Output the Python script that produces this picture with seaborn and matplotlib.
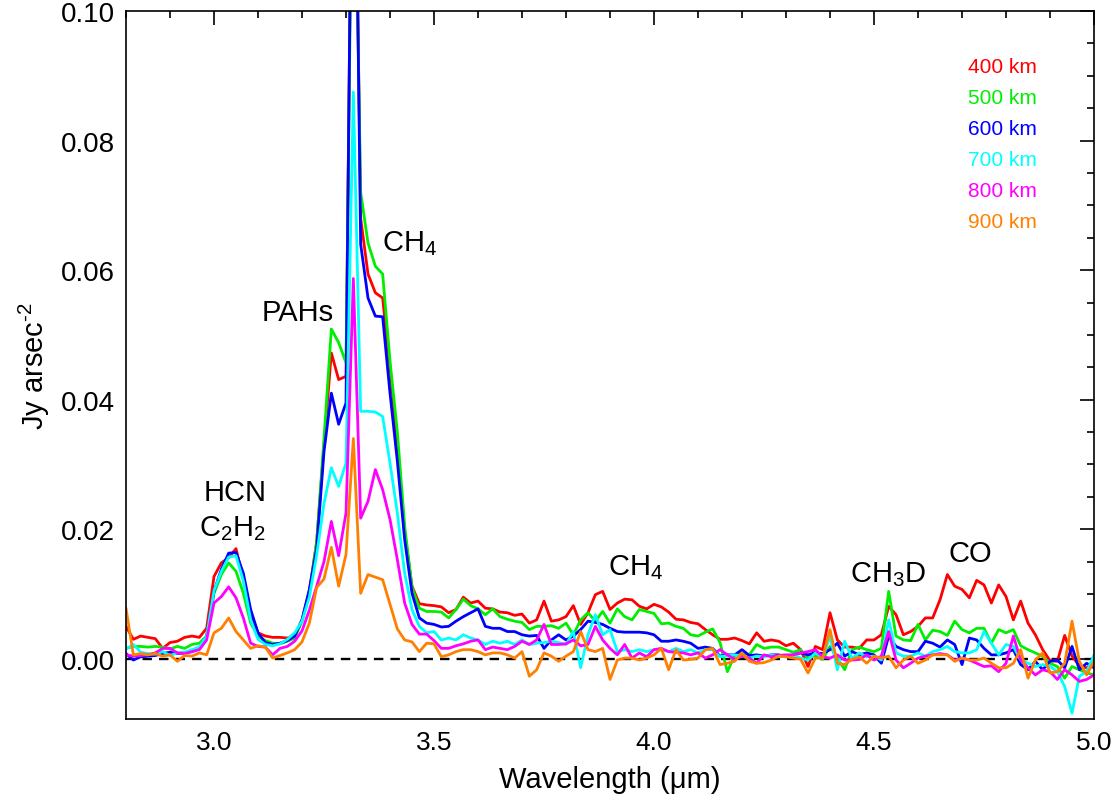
import numpy as np
import pandas as pd
import matplotlib
matplotlib.use("Agg")
import matplotlib.pyplot as plt
import seaborn as sns
from matplotlib.ticker import MultipleLocator, FormatStrFormatter

# Spectral grid: 2.8 to 5.0 micron in steps of 1/60 micron (133 samples)
wl_start, wl_step, n_points = 2.8, 1.0 / 60.0, 133
wavelength = np.round(wl_start + wl_step * np.arange(n_points), 4)

# Fluxes, in units of 1e-3 Jy arcsec^-2
flux_400 = [5.0, 3.0, 3.5, 3.3, 3.1, 1.6, 2.5, 2.7, 3.3, 3.5, 3.3, 4.7, 12.7, 14.8, 15.6, 17.0, 12.2, 7.1, 4.0, 3.5, 3.3, 3.3, 3.2, 3.5,
            6.0, 10.5, 18.0, 33.0, 47.2, 43.1, 43.6, 150.0, 68.0, 59.4, 56.5, 55.7, 45.0, 33.0, 19.5, 11.2, 8.5, 8.3,
            8.2, 8.0, 7.1, 7.6, 9.5, 8.6, 8.9, 7.8, 7.7, 7.2, 7.1, 6.7, 6.9, 5.5, 6.0, 8.9, 5.8, 6.0, 6.5, 8.2, 5.3, 7.1, 9.9, 10.4, 7.6, 8.6, 9.2, 9.1, 8.1, 7.7,
            8.4, 8.0, 7.2, 6.1, 6.0, 5.6, 5.4, 4.5, 3.7, 3.0, 3.0, 3.2, 2.8, 2.3, 4.0, 2.7, 2.9, 2.7, 2.0, 2.4, 1.4, -1.2, 1.9, 1.4, 7.1, 2.9, 1.8, 1.8, 1.6, 2.9,
            2.9, 3.7, 8.1, 6.8, 3.7, 4.2, 5.0, 6.3, 6.3, 9.1, 13.0, 11.2, 10.7, 9.4, 12.1, 11.4, 8.6, 11.4, 9.6, 6.0, 8.9, 5.5, 3.7, 1.4, -0.3, -0.4, 3.6, 0.4, -1.1, -1.4, -0.9]
flux_500 = [1.6, 1.9, 1.9, 1.8, 1.9, 1.8, 1.5, 1.9, 1.6, 2.2, 2.4, 3.5, 10.1, 13.0, 14.8, 13.5, 10.1, 5.5, 3.5, 2.8, 2.4, 2.3, 2.7, 3.2,
            5.8, 10.0, 18.0, 34.0, 50.9, 48.8, 45.7, 140.0, 72.0, 64.2, 60.6, 59.4, 46.0, 35.0, 20.5, 11.0, 7.8, 7.3,
            7.3, 7.2, 6.3, 7.6, 9.2, 8.2, 7.7, 6.8, 7.7, 6.5, 6.1, 5.8, 5.6, 4.5, 5.0, 5.0, 5.1, 4.7, 5.5, 3.7, 6.0, 7.1, 5.8, 7.3, 5.5, 7.7, 6.5, 6.0, 7.6, 7.3,
            7.0, 5.4, 5.5, 5.0, 4.7, 3.7, 3.5, 4.1, 4.6, 2.5, -2.0, 0.5, 0.9, 0.6, 2.2, 1.6, 1.8, 1.8, 1.4, 1.0, 1.4, 0.1, 0.5, -0.1, 1.9, 0.1, -1.7, 1.4, 1.8, 1.4,
            1.1, 1.6, 10.4, 3.5, 2.9, 2.8, 5.3, 2.9, 4.4, 4.2, 3.6, 5.8, 4.5, 4.0, 4.7, 4.7, 2.4, 4.5, 4.0, 4.5, 2.0, 1.4, 0.9, 0.4, -0.7, -1.2, -3.0, -1.2, -1.7, -2.2, -2.5]
flux_600 = [0.8, -0.2, 0.3, 0.4, 0.5, 0.8, 1.0, 0.8, 0.9, 1.1, 1.6, 3.5, 10.4, 13.8, 16.3, 16.4, 13.2, 7.6, 4.0, 2.5, 2.2, 2.4, 2.8, 3.5,
            6.0, 10.7, 17.0, 32.0, 41.0, 36.2, 39.5, 155.0, 64.0, 55.7, 52.9, 52.8, 41.0, 30.5, 18.4, 10.1, 6.3, 5.5,
            5.3, 4.9, 5.0, 5.8, 6.5, 7.1, 7.7, 5.0, 4.7, 4.7, 4.2, 4.2, 3.7, 3.5, 3.6, 1.6, 2.9, 3.7, 2.9, 3.5, 4.5, 5.8, 5.6, 5.3, 4.7, 4.2, 4.1, 4.1, 4.1, 4.0,
            3.7, 2.7, 2.7, 2.9, 2.7, 2.4, 1.6, 1.8, 1.6, 0.4, 0.6, 0.6, 1.4, 0.5, 0.6, 0.4, 0.6, 0.6, 0.3, 0.6, 0.9, 0.6, 0.9, 0.8, 1.4, 2.4, 0.4, 1.1, 0.6, 0.9,
            0.6, -0.7, 3.5, 1.9, 1.4, 1.1, 1.1, 2.7, 2.4, 1.8, 2.9, 2.2, -0.9, 3.2, 2.9, 1.6, 0.6, 0.6, 0.9, 1.4, -0.9, -1.7, -0.4, -1.7, -0.4, -0.2, -1.4, 1.9, -1.7, -0.7, -1.4]
flux_700 = [1.5, 2.2, 1.0, 0.8, 0.7, 1.1, 0.5, 0.9, 1.0, 1.4, 1.8, 3.5, 10.5, 13.5, 15.7, 15.9, 12.0, 6.0, 3.0, 2.2, 2.0, 2.3, 3.0, 4.0,
            5.8, 9.5, 16.0, 24.0, 29.5, 26.6, 30.2, 87.5, 38.2, 38.2, 38.1, 37.4, 30.2, 22.5, 13.2, 7.6, 5.0, 4.0,
            4.2, 2.9, 3.2, 2.9, 3.7, 3.2, 2.9, 2.2, 2.7, 2.4, 2.7, 2.2, 2.9, 2.2, 2.4, 2.5, 2.7, 2.5, 2.2, 4.2, -1.4, 3.7, 6.8, 3.7, 4.5, 1.1, 1.4, 1.1, 1.4, 1.1,
            1.4, 1.4, 1.1, 1.6, 1.1, 1.4, 0.9, 1.4, 1.4, 0.3, 0.5, 0.6, 0.4, 0.1, 0.4, 0.3, 0.6, 0.3, 0.4, 0.6, 0.1, -0.2, 0.9, 0.1, 3.5, -1.7, 2.7, 0.1, 0.9, 0.3,
            0.4, -0.2, 6.0, 0.9, 0.4, 0.4, 0.9, 0.4, 1.1, 1.4, 1.9, 1.1, 0.9, 0.9, 1.4, 4.2, 2.4, 0.6, 2.2, 1.9, -0.2, -0.7, -1.2, -0.9, -1.2, -2.0, -4.3, -8.4, -2.7, -2.0, 0.6]
flux_800 = [0.6, 0.4, 0.5, 0.6, 0.9, 1.6, 1.6, 0.9, 0.8, 1.1, 1.4, 2.9, 8.6, 9.6, 11.1, 9.4, 6.3, 2.4, 1.9, 1.8, 0.6, 1.6, 1.9, 2.7,
            4.3, 7.5, 11.2, 15.0, 21.2, 15.9, 22.5, 58.7, 21.7, 24.3, 29.2, 26.1, 21.5, 15.3, 8.6, 5.3, 3.8, 3.8,
            2.8, 1.6, 1.6, 2.0, 2.3, 2.7, 2.9, 1.4, 1.8, 1.6, 1.4, 1.9, 2.7, 2.2, 2.9, 5.3, 2.2, 2.2, 2.3, 2.9, 2.0, 2.2, 5.0, 2.9, 1.6, 0.6, 2.2, 0.1, 0.9, 0.3,
            1.4, 1.6, 1.1, 1.0, 0.9, 0.6, 0.9, 0.1, 0.6, 1.4, 0.6, -0.1, 0.4, 0.1, -0.7, 0.6, 0.3, 0.5, 0.6, 0.6, 0.9, 1.1, 1.4, 0.3, 0.1, 0.6, -0.2, -0.2, -0.1, 0.6,
            -0.2, 0.4, 4.2, -0.2, -1.4, -0.7, 0.1, 0.4, 0.6, 0.8, 0.6, -0.2, 0.1, -0.2, -0.7, -1.2, -1.1, -2.0, -0.7, 3.5, -0.2, -1.4, -2.5, -1.7, -2.0, -3.2, -1.7, -2.5, -3.5, -3.2, -2.5]
flux_900 = [7.8, 0.6, 0.8, 0.6, 0.8, 0.4, 0.6, -0.4, 0.5, 0.4, 0.9, 0.6, 4.0, 4.7, 6.3, 4.2, 2.9, 1.6, 2.0, 1.8, 0.1, 0.5, 0.9, 1.4,
            2.6, 5.5, 11.0, 12.3, 17.2, 11.2, 16.1, 34.0, 10.1, 13.0, 12.6, 12.2, 8.4, 4.6, 2.9, 2.6, 1.1, 2.4,
            2.3, 0.3, 0.6, 1.1, 1.4, 1.4, 1.1, 0.6, 0.9, 0.9, 0.6, 0.1, 1.1, -2.7, -1.7, 0.9, 0.4, -0.4, 0.4, 1.1, 4.2, 1.4, 1.1, 1.6, -3.2, -0.2, 0.1, 0.1, -0.2, 0.1,
            0.6, 1.6, -1.7, 1.4, -0.2, -0.1, 0.1, 1.4, 1.6, -0.9, -0.7, -0.4, 0.9, -0.4, -0.7, -0.6, -0.2, 0.4, 0.3, 0.1, -0.1, -2.2, 0.1, 0.1, 4.5, -0.7, -0.9, -0.1, 0.3, -0.7,
            0.4, 0.1, 0.4, -1.4, -0.2, 0.4, -0.7, -0.2, 0.6, 0.6, 0.6, -0.4, 0.1, -0.2, -0.2, 0.1, -0.7, -1.4, -1.4, -0.7, 1.4, -3.0, -0.2, 0.9, -2.2, -2.0, -0.7, 5.8, -0.4, -2.5, -0.4]

altitudes = ["400 km", "500 km", "600 km", "700 km", "800 km", "900 km"]
colors = ["#ff0000", "#00ee00", "#0000ff", "#00ffff", "#ff00ff", "#ff8000"]

# Long-form table for seaborn
series = [flux_400, flux_500, flux_600, flux_700, flux_800, flux_900]
df = pd.concat([pd.DataFrame({"wavelength": wavelength,
                              "flux": np.array(f) * 1e-3,
                              "altitude": alt})
                for f, alt in zip(series, altitudes)], ignore_index=True)

sns.set_style("white")
plt.rcParams["font.family"] = ["Liberation Sans", "DejaVu Sans"]
plt.rcParams["mathtext.fontset"] = "custom"
plt.rcParams["mathtext.rm"] = "Liberation Sans"
plt.rcParams["mathtext.it"] = "Liberation Sans"
for key in ["text.color", "axes.labelcolor", "xtick.color", "ytick.color", "axes.edgecolor"]:
    plt.rcParams[key] = "black"
narrow = ["Liberation Sans Narrow", "Liberation Sans", "DejaVu Sans"]

fig = plt.figure(figsize=(11.2, 8.03), dpi=100)
ax = fig.add_axes([0.1125, 0.1034, 0.8643, 0.8816])

sns.lineplot(data=df, x="wavelength", y="flux", hue="altitude",
             hue_order=altitudes, palette=colors, linewidth=2.0,
             legend=False, estimator=None, sort=False, ax=ax)

ax.axhline(0.0, color="black", linestyle=(0, (4, 3)), linewidth=1.7, zorder=1)

ax.set_xlim(2.8, 5.0)
ax.set_ylim(-0.0093, 0.100)
ax.xaxis.set_major_locator(MultipleLocator(0.5))
ax.xaxis.set_minor_locator(MultipleLocator(0.1))
ax.yaxis.set_major_locator(MultipleLocator(0.02))
ax.yaxis.set_minor_locator(MultipleLocator(0.005))
ax.xaxis.set_major_formatter(FormatStrFormatter("%.1f"))
ax.yaxis.set_major_formatter(FormatStrFormatter("%.2f"))
ax.tick_params(which="both", direction="in", top=True, right=True,
               width=1.2, color="black")
ax.tick_params(which="major", length=10, pad=8)
ax.tick_params(which="minor", length=5)
for lab in ax.get_yticklabels():
    lab.set_fontsize(20)
for lab in ax.get_xticklabels():
    lab.set_fontsize(19)
    lab.set_family(narrow)
for sp in ax.spines.values():
    sp.set_linewidth(1.2)
    sp.set_color("black")

ax.set_xlabel("Wavelength (\u03bcm)", fontsize=21, family=narrow, labelpad=8)
ax.set_ylabel("Jy arsec$^{\\text{-2}}$", fontsize=21, family=narrow, labelpad=6)

# Band labels
band_fs = 21
ax.text(3.048, 0.0258, "HCN", fontsize=band_fs, ha="center", va="center")
ax.text(3.041, 0.0202, "C$_2$H$_2$", fontsize=band_fs, ha="center", va="center")
ax.text(3.191, 0.0535, "PAHs", fontsize=band_fs, ha="center", va="center")
ax.text(3.445, 0.0643, "CH$_4$", fontsize=band_fs, ha="center", va="center")
ax.text(3.959, 0.0142, "CH$_4$", fontsize=band_fs, ha="center", va="center")
ax.text(4.532, 0.0132, "CH$_3$D", fontsize=band_fs, ha="center", va="center")
ax.text(4.718, 0.0164, "CO", fontsize=band_fs, ha="center", va="center")

# Altitude legend written in the series colours
for i, (alt, col) in enumerate(zip(altitudes, colors)):
    ax.text(0.870, 0.922 - i * 0.0438, alt, color=col, fontsize=15,
            ha="left", va="center", transform=ax.transAxes)

fig.savefig("out.png", dpi=100)
